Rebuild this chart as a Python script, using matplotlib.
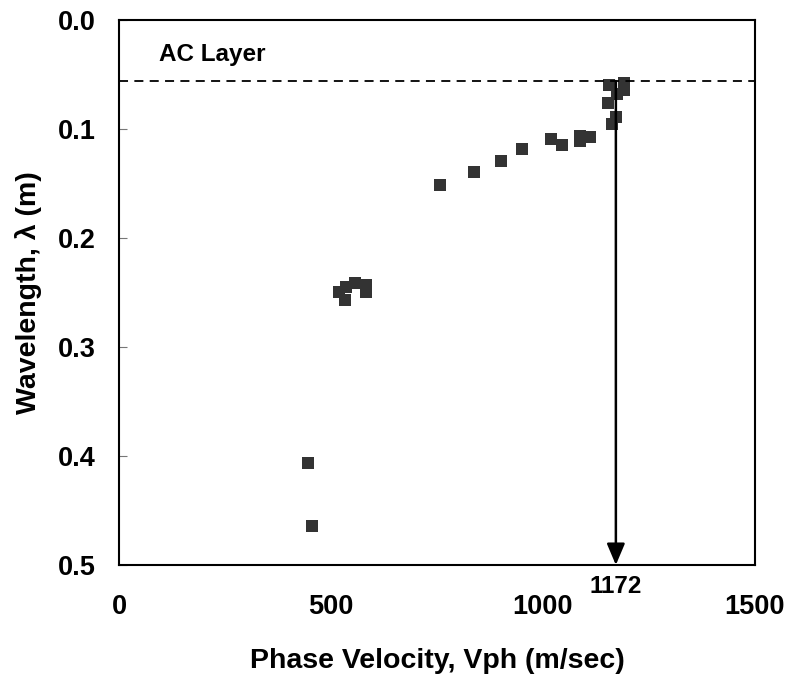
import matplotlib
matplotlib.use("Agg")
import matplotlib.pyplot as plt

plt.rcParams['font.family'] = ['Liberation Sans', 'DejaVu Sans']
plt.rcParams['font.weight'] = 'bold'

# phase velocity (m/sec) and wavelength (m)
vph = [445, 455,
       519, 533, 535, 557, 582, 582,
       757, 837, 902, 950, 1020, 1044, 1087, 1087, 1111,
       1153, 1155, 1163, 1172, 1175, 1192, 1192]
wavelength = [0.406, 0.464,
              0.250, 0.257, 0.245, 0.241, 0.243, 0.250,
              0.151, 0.139, 0.129, 0.118, 0.109, 0.115, 0.106, 0.111, 0.107,
              0.076, 0.060, 0.095, 0.089, 0.068, 0.058, 0.064]

ac_depth = 0.056
v_ac = 1172
xticks = [0, 500, 1000, 1500]
yticks = [0.0, 0.1, 0.2, 0.3, 0.4, 0.5]

fig = plt.figure(figsize=(7.91, 6.78), dpi=100)
ax = fig.add_axes([0.1504, 0.1667, 0.804, 0.8038])

ax.plot(vph, wavelength, 's', color='#333333', markersize=8.5, markeredgewidth=0)

# AC layer boundary
ax.axhline(ac_depth, color='black', lw=1.3, ls=(0, (5, 3.5)))
ax.text(94, 0.032, 'AC Layer', fontsize=17.5, fontweight='bold', va='center')

# arrow down to the velocity of the AC layer
ax.annotate('', xy=(v_ac, 0.5), xytext=(v_ac, ac_depth),
            arrowprops=dict(arrowstyle='-|>,head_width=0.55,head_length=1.3',
                            color='black', lw=1.8, shrinkA=0, shrinkB=0))
ax.text(v_ac, 0.52, str(v_ac), fontsize=17.5, fontweight='bold',
        ha='center', va='center', clip_on=False)

ax.set_xlim(0, 1500)
ax.set_ylim(0.5, 0.0)
ax.set_xticks(xticks)
ax.set_yticks(yticks)
ax.set_yticklabels(['%.1f' % t for t in yticks])
ax.tick_params(axis='x', length=0, pad=21, labelsize=19.5)
ax.tick_params(axis='y', direction='in', length=6, color='#777777', pad=17, labelsize=19.5)
for s in ax.spines.values():
    s.set_linewidth(1.5)

ax.set_xlabel('Phase Velocity, Vph (m/sec)', fontsize=20.5, fontweight='bold', labelpad=20)
ax.set_ylabel('Wavelength, λ (m)', fontsize=20.5, fontweight='bold', labelpad=11)

fig.savefig('out.png', dpi=100)
